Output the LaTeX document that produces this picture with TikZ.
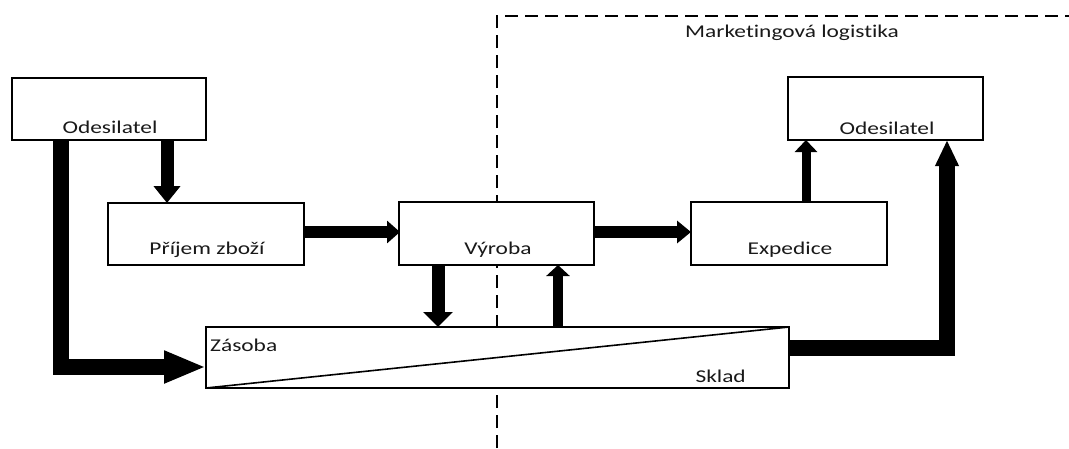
\documentclass[tikz,border=0pt]{standalone}
\usepackage{fontspec}
\setmainfont[FakeStretch=1.3,Ligatures={NoCommon}]{Carlito}
\usetikzlibrary{arrows.meta}
\begin{document}
\begin{tikzpicture}[x=1pt,y=-1pt,
  box/.style={draw=black,line width=1.8pt,fill=white},
  lbl/.style={font=\fontsize{18}{21}\selectfont,inner sep=0pt,text=black!90},
  flow/.style={line width=#1,draw=black},
  region/.style={line width=2.4pt,dash pattern=on 13pt off 7pt}]
\useasboundingbox (0,0) rectangle (1069,448);
% region boundary
\draw[region] (497,448) -- (497,16) -- (1069,16);
\node[lbl,anchor=west] (mk) at (685,33) {Marketingová logistika};
% boxes
\draw[box] (12,78) rectangle (206,140);
\node[lbl] (t1) at (110,127) {Odesilatel};
\draw[box] (108,203) rectangle (304,265);
\node[lbl] (t2) at (207,250) {Příjem zboží};
\draw[box] (399,202) rectangle (594,265);
\node[lbl] (t3) at (498,250) {Výroba};
\draw[box] (691,202) rectangle (887,265);
\node[lbl] (t4) at (790,250) {Expedice};
\draw[box] (788,77) rectangle (983,140);
\node[lbl] (t5) at (887,128) {Odesilatel};
\draw[box] (206,327) rectangle (789,388);
\draw[line width=1.6pt] (206,388) -- (789,327);
\node[lbl,anchor=west] (t6) at (210,345) {Zásoba};
\node[lbl,anchor=east] (t7) at (746,376) {Sklad};
% named anchor points for connectors
\coordinate (a1s) at (61,140);
\coordinate (a1c) at (61,367);
\coordinate (a1e) at (206,367);
\coordinate (a2s) at (167,140);
\coordinate (a2e) at (167,203);
\coordinate (a3s) at (304,232);
\coordinate (a3e) at (400,232);
\coordinate (a4s) at (594,232);
\coordinate (a4e) at (691,232);
\coordinate (a5s) at (438,265);
\coordinate (a5e) at (438,327);
\coordinate (a6s) at (558,327);
\coordinate (a6e) at (558,265);
\coordinate (a7s) at (806,202);
\coordinate (a7e) at (806,140);
\coordinate (a8s) at (789,348);
\coordinate (a8c) at (947,348);
\coordinate (a8e) at (947,140);
% connectors
\draw[flow=16pt,-{Triangle[width=30pt,length=42pt]}] (a1s) -- (a1c) -- (a1e);
\draw[flow=13pt,-{Triangle[width=26pt,length=17pt]}] (a2s) -- (a2e);
\draw[flow=12pt,-{Triangle[width=22pt,length=13pt]}] (a3s) -- (a3e);
\draw[flow=12pt,-{Triangle[width=22pt,length=14pt]}] (a4s) -- (a4e);
\draw[flow=13pt,-{Triangle[width=29pt,length=15pt]}] (a5s) -- (a5e);
\draw[flow=10pt,-{Triangle[width=23pt,length=11pt]}] (a6s) -- (a6e);
\draw[flow=9pt,-{Triangle[width=22pt,length=12pt]}] (a7s) -- (a7e);
\draw[flow=16pt,-{Triangle[width=22pt,length=26pt]}] (a8s) -- (a8c) -- (a8e);
\end{tikzpicture}
\end{document}
